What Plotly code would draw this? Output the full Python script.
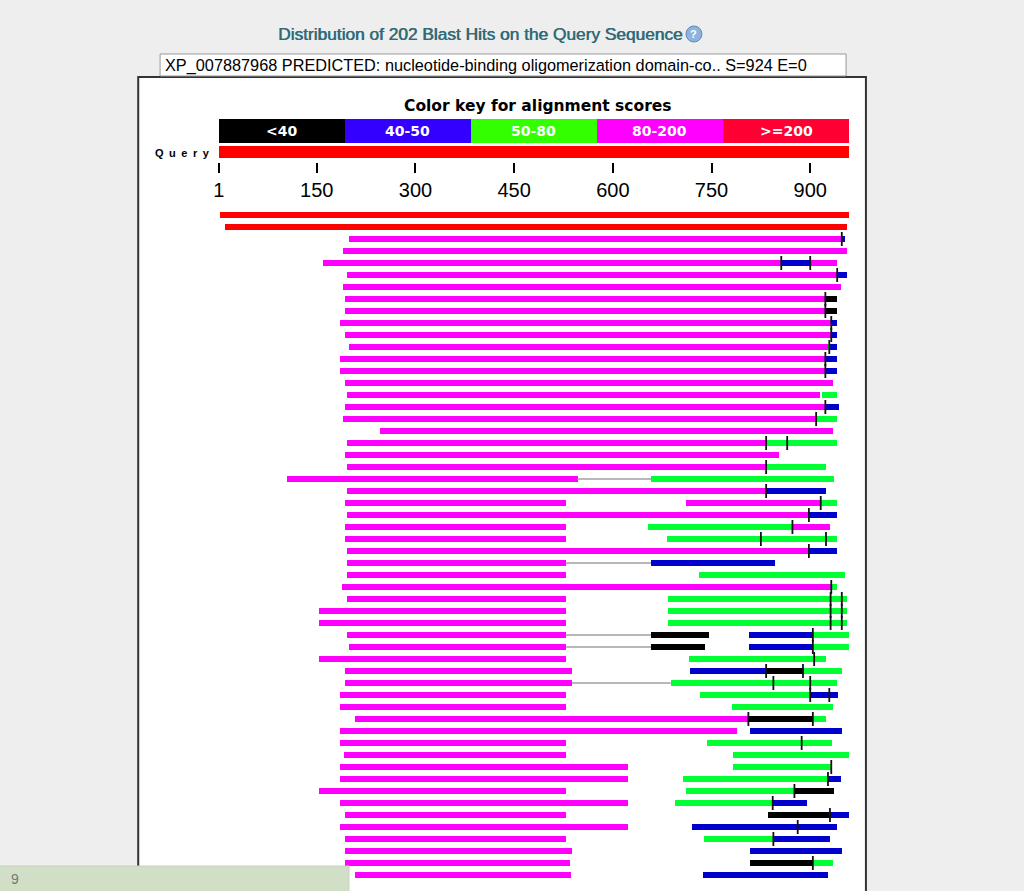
import plotly.graph_objects as go

# ---------------- data ----------------
query_len = 959
ruler_ticks = [1, 150, 300, 450, 600, 750, 900]
key_labels = ["<40", "40-50", "50-80", "80-200", ">=200"]
key_colors = ["#000000", "#3300ff", "#33ff00", "#ff00ff", "#ff0033"]
hit_colors = ["#000000", "#0000cc", "#00ff33", "#ff00ff", "#ff0000"]

# aligned segments: row index, start, end, score class (index into key_labels)
seg_row = [0, 1,
           2, 2, 3, 4, 4, 4, 5, 5, 6, 7, 7, 8, 8, 9, 9, 10, 10, 11, 11, 11,
           12, 12, 13, 13, 14, 15, 15, 16, 16, 17, 17, 18, 19, 19, 20, 21, 21,
           22, 22, 23, 23, 24, 24, 24, 25, 25, 26, 26, 26, 27, 27, 28, 28,
           29, 29, 30, 30, 31, 31, 32, 32, 33, 33, 34, 34,
           35, 35, 35, 35, 36, 36, 36, 36, 37, 37, 38, 38, 38, 38, 39, 39,
           40, 40, 40, 41, 41, 42, 42, 42, 43, 43, 44, 44, 45, 45, 46, 46,
           47, 47, 47, 48, 48, 48, 49, 49, 49, 50, 50, 50, 51, 51,
           52, 52, 52, 53, 53, 54, 54, 54, 55, 55]
seg_start = [3, 10,
             199, 948, 189, 159, 856, 900, 195, 941, 189, 193, 923, 193, 923, 185, 932, 193, 932, 199, 927, 929,
             185, 923, 185, 923, 193, 195, 918, 193, 923, 189, 909, 246, 195, 833, 193, 195, 833,
             105, 658, 195, 833, 193, 711, 916, 195, 898, 193, 653, 873, 193, 682, 195, 898,
             195, 658, 195, 730, 188, 932, 195, 684, 153, 684, 153, 684,
             195, 658, 806, 904, 199, 658, 806, 904, 153, 715, 193, 717, 833, 889, 193, 688,
             185, 732, 900, 185, 780, 208, 806, 904, 185, 808, 185, 743, 191, 783, 185, 783,
             185, 707, 927, 153, 711, 876, 185, 694, 843, 193, 835, 930, 185, 720,
             193, 738, 844, 193, 808, 193, 808, 904, 208, 736]
seg_end = [958, 956,
           948, 953, 955, 856, 900, 941, 941, 955, 946, 923, 940, 923, 940, 932, 940, 932, 940, 927, 929, 940,
           923, 940, 923, 940, 934, 914, 940, 923, 943, 909, 940, 934, 833, 940, 852, 833, 923,
           546, 935, 833, 923, 529, 916, 940, 898, 940, 529, 873, 929, 529, 940, 898, 940,
           529, 846, 529, 953, 932, 940, 529, 955, 529, 955, 529, 955,
           529, 746, 904, 959, 529, 740, 904, 959, 529, 923, 538, 833, 889, 948, 538, 940,
           529, 900, 942, 529, 934, 806, 904, 923, 788, 948, 529, 932, 529, 959, 623, 932,
           623, 927, 946, 529, 876, 936, 623, 843, 895, 529, 930, 959, 623, 940,
           529, 844, 929, 538, 948, 535, 904, 934, 536, 926]
seg_class = [4, 4,
             3, 1, 3, 3, 1, 3, 3, 1, 3, 3, 0, 3, 0, 3, 1, 3, 1, 3, 2, 1,
             3, 1, 3, 1, 3, 3, 2, 3, 1, 3, 2, 3, 3, 2, 3, 3, 2,
             3, 2, 3, 1, 3, 3, 2, 3, 1, 3, 2, 3, 3, 2, 3, 1,
             3, 1, 3, 2, 3, 2, 3, 2, 3, 2, 3, 2,
             3, 0, 1, 2, 3, 0, 1, 2, 3, 2, 3, 1, 0, 2, 3, 2,
             3, 2, 1, 3, 2, 3, 0, 2, 3, 1, 3, 2, 3, 2, 3, 2,
             3, 2, 1, 3, 2, 0, 3, 2, 1, 3, 0, 1, 3, 1,
             3, 2, 1, 3, 1, 3, 0, 2, 3, 1]

# HSP boundary markers
mark_row = [2, 4, 4, 5, 7, 8, 9, 10, 11, 12, 13, 16, 17, 19, 19, 21, 23, 24, 25, 26,
            27, 27, 28, 31, 32, 32, 33, 33, 34, 34, 35, 36, 37, 38, 38, 39, 39,
            40, 40, 42, 42, 44, 46, 47, 48, 49, 50, 51, 52, 54]
mark_pos = [948, 856, 900, 941, 923, 923, 932, 932, 929, 923, 923, 923, 909, 833, 865, 833, 833, 916, 898, 873,
            825, 924, 898, 932, 931, 948, 931, 948, 931, 948, 904, 904, 906, 833, 889, 844, 900,
            900, 929, 806, 904, 887, 932, 927, 876, 843, 930, 881, 844, 904]

# thin connectors between HSPs of the same hit
gap_row = [22, 29, 35, 36, 39]
gap_start = [546, 529, 529, 529, 538]
gap_end = [658, 658, 658, 658, 688]

# ---------------- geometry ----------------
W, H = 1024, 891
x_left_px, x_right_px = 214, 848
row0_px, row_step = 215, 12.0
y_top = (0 - row0_px) / row_step
y_bot = (H - row0_px) / row_step
key_row = (131 - row0_px) / row_step
query_row = (152 - row0_px) / row_step

FONT = "Liberation Sans, Arial, sans-serif"
VFONT = "DejaVu Sans, Verdana, sans-serif"
fig = go.Figure()

# colour key
seg_w = (query_len - 1) / len(key_labels)
fig.add_trace(go.Bar(
    orientation="h", y=[key_row] * 5,
    base=[1 + i * seg_w for i in range(5)], x=[seg_w] * 5,
    width=24 / row_step, marker=dict(color=key_colors, line=dict(width=0)),
    hoverinfo="skip", showlegend=False))

# query bar (on ruler axis)
fig.add_trace(go.Bar(
    orientation="h", y=[query_row], base=[1], x=[query_len - 1], xaxis="x2",
    width=12 / row_step, marker=dict(color="#ff0000", line=dict(width=0)),
    hoverinfo="skip", showlegend=False))

# gaps
gx, gy = [], []
for r, s, e in zip(gap_row, gap_start, gap_end):
    gx += [s, e, None]
    gy += [r, r, None]
fig.add_trace(go.Scatter(x=gx, y=gy, mode="lines", line=dict(color="#a0a0a0", width=1.5),
                         hoverinfo="skip", showlegend=False))

# hits, one trace per score class
for c in range(5):
    idx = [i for i, k in enumerate(seg_class) if k == c]
    fig.add_trace(go.Bar(
        orientation="h",
        y=[seg_row[i] for i in idx],
        base=[seg_start[i] for i in idx],
        x=[seg_end[i] - seg_start[i] for i in idx],
        width=6.5 / row_step,
        marker=dict(color=hit_colors[c], line=dict(width=0)),
        name=key_labels[c], hoverinfo="skip", showlegend=False))

# boundary marks
fig.add_trace(go.Scatter(
    x=mark_pos, y=mark_row, mode="markers",
    marker=dict(symbol="line-ns", size=10, line=dict(width=1.8, color="#111111")),
    hoverinfo="skip", showlegend=False))

# key labels
for i, lab in enumerate(key_labels):
    fig.add_annotation(x=1 + (i + 0.5) * seg_w, y=key_row, xref="x", yref="y", text="<b>%s</b>" % lab,
                       showarrow=False, font=dict(family=VFONT, size=14, color="white"))

dom = [x_left_px / W, x_right_px / W]
fig.update_layout(
    width=W, height=H, margin=dict(l=0, r=0, t=0, b=0),
    paper_bgcolor="#eeeeee", plot_bgcolor="rgba(0,0,0,0)",
    barmode="overlay", bargap=0,
    xaxis=dict(domain=dom, range=[1, query_len], visible=False, fixedrange=True),
    xaxis2=dict(domain=dom, range=[1, query_len], overlaying="x", anchor="free",
                position=1 - 162 / H, side="bottom", tickvals=ruler_ticks,
                ticks="outside", ticklen=10, tickwidth=2, tickcolor="black",
                showgrid=False, showline=False, zeroline=False, fixedrange=True,
                tickfont=dict(family=FONT, size=20, color="black")),
    yaxis=dict(domain=[0, 1], range=[y_bot, y_top], visible=False, fixedrange=True),
    shapes=[
        dict(type="rect", xref="paper", yref="paper", x0=133 / W, x1=865 / W,
             y0=-0.02, y1=1 - 77 / H, fillcolor="white", line=dict(color="#333333", width=2),
             layer="below"),
        dict(type="rect", xref="paper", yref="paper", x0=155 / W, x1=845 / W,
             y0=1 - 76 / H, y1=1 - 54 / H, fillcolor="white", line=dict(color="#999999", width=1),
             layer="below"),
        dict(type="circle", xref="paper", yref="paper", x0=684 / W, x1=700 / W,
             y0=1 - 42 / H, y1=1 - 26 / H, fillcolor="#8fb4dc", line=dict(color="#5b88bf", width=1)),
        dict(type="rect", xref="paper", yref="paper", x0=-0.01, x1=345 / W,
             y0=-0.01, y1=1 - 866 / H, fillcolor="#d1dfc6", line=dict(color="#c4d3ba", width=1)),
    ],
)

ann = [
    dict(text="Distribution of 202 Blast Hits on the Query Sequence", x=477 / W, y=1 - 34 / H,
         font=dict(family=FONT, size=17.3, color="#2f6b78", shadow="0.6px 0px 0px #2f6b78"),
         xanchor="center"),
    dict(text="<b>?</b>", x=692 / W, y=1 - 34 / H, font=dict(family=FONT, size=11, color="white"),
         xanchor="center"),
    dict(text="XP_007887968 PREDICTED: nucleotide-binding oligomerization domain-co.. S=924 E=0",
         x=158 / W, y=1 - 65 / H, font=dict(family=FONT, size=16.3, color="black"), xanchor="left"),
    dict(text="<b>Color key for alignment scores</b>", x=535 / W, y=1 - 106 / H,
         font=dict(family=VFONT, size=15.5, color="black"), xanchor="center"),
    dict(text="<b>Q&#8194;u&#8194;e&#8194;r&#8194;y</b>", x=207 / W, y=1 - 153 / H,
         font=dict(family=FONT, size=11, color="black"), xanchor="right"),
    dict(text="9", x=3 / W, y=1 - 879 / H, font=dict(family=FONT, size=14, color="#777777"),
         xanchor="left"),
]
for a in ann:
    fig.add_annotation(xref="paper", yref="paper", showarrow=False, yanchor="middle", **a)

fig.write_html("out.html", config={"displayModeBar": False},
               post_script="document.body.style.margin='0';document.body.style.background='#eeeeee';")
